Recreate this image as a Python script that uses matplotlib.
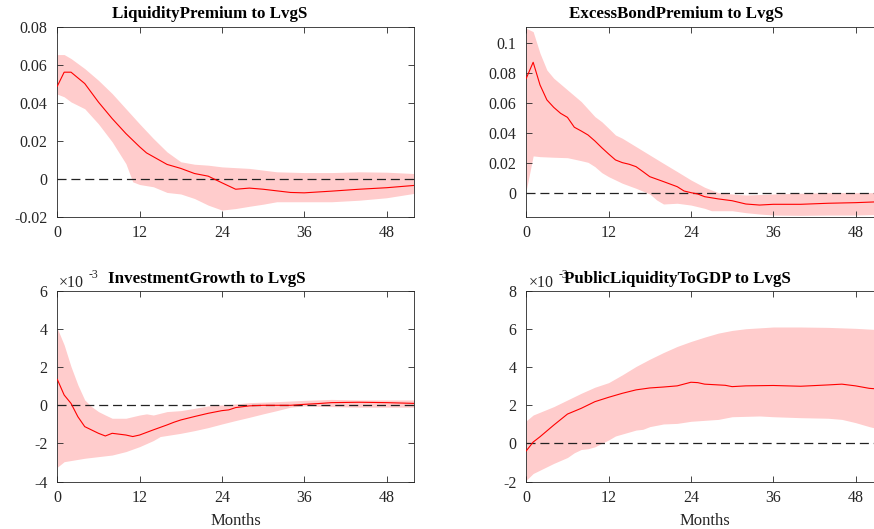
import matplotlib
matplotlib.use("Agg")
import matplotlib.pyplot as plt
from matplotlib.ticker import FuncFormatter
import numpy as np

plt.rcParams['font.family'] = ['Liberation Serif', 'DejaVu Serif']
plt.rcParams['lines.scale_dashes'] = False

# ---- LiquidityPremium to LvgS ----
lp_m = [0, 1, 2, 4, 6, 8, 10, 12, 13, 16, 18, 20, 22, 24, 26, 28, 30, 34, 36, 40, 44, 48, 52]
lp_mid = [0.0489, 0.0563, 0.0563, 0.0503, 0.0405, 0.0318, 0.0239, 0.0169, 0.0137, 0.0076, 0.0055,
          0.0028, 0.0014, -0.0021, -0.0055, -0.0049, -0.0055, -0.0072, -0.0074, -0.0065, -0.0055,
          -0.0047, -0.0035]
lp_up_m = [0, 1, 2, 4, 6, 8, 10, 12, 14, 16, 18, 20, 22, 24, 28, 32, 36, 40, 44, 48, 52]
lp_up = [0.0656, 0.0656, 0.0635, 0.0582, 0.052, 0.045, 0.037, 0.029, 0.0213, 0.0142, 0.009,
         0.0077, 0.0072, 0.0063, 0.0055, 0.0037, 0.0033, 0.0033, 0.0037, 0.0035, 0.0028]
lp_lo_m = [0, 1, 2, 4, 6, 8, 10, 11, 12, 14, 16, 18, 20, 22, 24, 26, 28, 30, 32, 36, 40, 44, 48, 52]
lp_lo = [0.0447, 0.0433, 0.0406, 0.037, 0.029, 0.0195, 0.008, -0.0016, -0.003, -0.0042, -0.0072,
         -0.008, -0.0104, -0.0139, -0.0165, -0.0157, -0.0145, -0.0134, -0.0121, -0.0121, -0.0121,
         -0.0113, -0.01, -0.0077]

# ---- ExcessBondPremium to LvgS ----
eb_m = [0, 1, 2, 3, 4, 5, 6, 7, 8, 9, 10, 11, 12, 13, 14, 15, 16, 17, 18, 20, 22, 23, 24, 25, 26,
        28, 30, 32, 34, 36, 40, 44, 48, 52]
eb_mid = [0.0766, 0.0873, 0.0721, 0.0621, 0.0571, 0.0531, 0.0504, 0.0438, 0.0413, 0.0386, 0.0346,
          0.0301, 0.0259, 0.0219, 0.0201, 0.019, 0.0174, 0.0141, 0.0107, 0.0074, 0.004, 0.0011, 0.0,
          -0.0009, -0.0027, -0.0042, -0.0054, -0.0076, -0.0083, -0.0078, -0.0078, -0.0071, -0.0067,
          -0.006]
eb_up_m = [0, 1, 2, 3, 4, 6, 8, 10, 11, 12, 13, 14, 16, 18, 20, 22, 24, 26, 28, 30, 32, 36, 40, 44, 48, 52]
eb_up = [0.110, 0.1078, 0.0933, 0.0821, 0.0766, 0.0688, 0.061, 0.0509, 0.0475, 0.0431, 0.0386,
         0.0364, 0.0308, 0.0252, 0.0196, 0.0141, 0.0085, 0.0036, 0.0, -0.0009, -0.0016, -0.0009,
         -0.0004, 0.0, 0.0, 0.0]
eb_lo_m = [0, 1, 2, 4, 6, 8, 9, 10, 11, 12, 13, 14, 16, 18, 19, 20, 22, 24, 26, 27, 28, 30, 32, 34,
           36, 40, 44, 48, 52]
eb_lo = [0.0018, 0.0246, 0.0241, 0.0237, 0.0234, 0.0214, 0.0203, 0.0174, 0.0134, 0.0107, 0.0085,
         0.0063, 0.0029, -0.0009, -0.0049, -0.0076, -0.0071, -0.0083, -0.0105, -0.0121, -0.0121,
         -0.0121, -0.0134, -0.0143, -0.015, -0.0152, -0.015, -0.015, -0.0145]

# ---- InvestmentGrowth to LvgS (units of 1e-3) ----
ig_m = [0, 1, 2, 3, 4, 6, 7, 8, 10, 11, 12, 14, 16, 17, 18, 20, 22, 24, 25, 26, 28, 30, 34, 36, 38,
        40, 44, 48, 52]
ig_mid = [1.36, 0.54, 0.1, -0.6, -1.12, -1.47, -1.61, -1.47, -1.56, -1.64, -1.56, -1.29, -1.03,
          -0.89, -0.77, -0.59, -0.42, -0.28, -0.24, -0.12, -0.03, 0.0, 0.0, 0.05, 0.09, 0.14, 0.16,
          0.14, 0.1]
ig_up_m = [0, 1, 2, 3, 4, 5, 6, 7, 8, 10, 12, 13, 14, 16, 18, 20, 22, 24, 26, 28, 32, 36, 40, 44, 48, 52]
ig_up = [4.04, 3.17, 2.03, 1.07, 0.28, -0.07, -0.33, -0.51, -0.68, -0.68, -0.51, -0.45, -0.51,
         -0.33, -0.28, -0.16, -0.03, 0.02, 0.07, 0.14, 0.19, 0.26, 0.31, 0.28, 0.28, 0.28]
ig_lo_m = [0, 1, 4, 8, 10, 12, 14, 15, 18, 20, 22, 24, 26, 28, 30, 32, 34, 36, 40, 44, 48, 52]
ig_lo = [-3.25, -2.96, -2.78, -2.61, -2.43, -2.17, -1.85, -1.64, -1.47, -1.33, -1.17, -0.98, -0.8,
         -0.63, -0.45, -0.28, -0.1, -0.03, -0.07, -0.1, -0.1, -0.1]

# ---- PublicLiquidityToGDP to LvgS (units of 1e-3) ----
pl_m = [0, 1, 2, 4, 6, 8, 10, 12, 14, 16, 18, 20, 22, 24, 25, 26, 28, 29, 30, 32, 36, 40, 44, 46,
        48, 50, 52]
pl_mid = [-0.39, 0.07, 0.35, 0.96, 1.54, 1.84, 2.19, 2.42, 2.63, 2.81, 2.91, 2.96, 3.02, 3.21, 3.19,
          3.11, 3.07, 3.05, 2.98, 3.02, 3.04, 3.0, 3.07, 3.11, 3.02, 2.89, 2.84]
pl_up_m = [0, 1, 4, 6, 8, 10, 12, 14, 16, 18, 20, 22, 24, 26, 28, 30, 32, 36, 40, 44, 48, 52]
pl_up = [1.19, 1.49, 1.93, 2.28, 2.63, 2.95, 3.19, 3.6, 4.04, 4.42, 4.77, 5.09, 5.35, 5.58, 5.79,
         5.93, 6.02, 6.11, 6.11, 6.09, 6.04, 5.96]
pl_lo_m = [0, 1, 4, 6, 7, 8, 9, 10, 11, 12, 13, 16, 17, 18, 20, 22, 24, 28, 30, 34, 36, 40, 44, 46,
           48, 50, 52]
pl_lo = [-1.93, -1.58, -1.05, -0.74, -0.49, -0.32, -0.28, -0.18, 0.0, 0.18, 0.39, 0.7, 0.74, 0.88,
         1.02, 1.05, 1.16, 1.26, 1.4, 1.44, 1.4, 1.35, 1.32, 1.26, 1.09, 0.88, 0.7]

titles = ["LiquidityPremium to LvgS", "ExcessBondPremium to LvgS",
          "InvestmentGrowth to LvgS", "PublicLiquidityToGDP to LvgS"]
xticks = [0, 12, 24, 36, 48]

W, H = 874, 529
fig = plt.figure(figsize=(W / 100, H / 100), dpi=100)

def px_axes(left, top, right, bottom):
    return fig.add_axes([left / W, 1 - bottom / H, (right - left) / W, (bottom - top) / H])

panels = [
    (px_axes(57.3, 27.3, 414, 216.7), lp_m, lp_mid, lp_up_m, lp_up, lp_lo_m, lp_lo, (-0.02, 0.08), [-0.02, 0, 0.02, 0.04, 0.06, 0.08], 210, 18.5),
    (px_axes(526.3, 27.3, 883, 216.7), eb_m, eb_mid, eb_up_m, eb_up, eb_lo_m, eb_lo, (-0.0161, 0.1107), [0, 0.02, 0.04, 0.06, 0.08, 0.1], 676, 18.5),
    (px_axes(57.3, 291, 414, 481.5), ig_m, ig_mid, ig_up_m, ig_up, ig_lo_m, ig_lo, (-4, 6), [-4, -2, 0, 2, 4, 6], 206.5, 282.7),
    (px_axes(526.3, 291, 883, 481.5), pl_m, pl_mid, pl_up_m, pl_up, pl_lo_m, pl_lo, (-2, 8), [-2, 0, 2, 4, 6, 8], 677.5, 282.7),
]

grid = np.arange(0, 53)
for i, (ax, m, mid, um, up, lm, lo, ylim, yt, tx, ty) in enumerate(panels):
    # band edges were read at different months; shade between them on the common month grid
    ax.fill_between(grid, np.interp(grid, lm, lo), np.interp(grid, um, up),
                    color='#ffcccc', lw=0, zorder=1)
    ax.axhline(0, color='#222222', lw=0.9, dashes=(6.5, 3.5), zorder=2)
    ax.plot(m, mid, color='red', lw=0.8, zorder=3)
    ax.set_xlim(0, 52)
    ax.set_ylim(*ylim)
    ax.set_xticks(xticks)
    ax.set_yticks(yt)
    ax.yaxis.set_major_formatter(FuncFormatter(lambda v, p: '%g' % round(v, 4)))
    ax.tick_params(direction='in', top=True, right=True, length=4, width=0.6,
                   labelsize=11.5, colors='#262626', pad=7)
    ax.tick_params(axis='x', pad=6)
    for s in ax.spines.values():
        s.set_color('#262626')
        s.set_linewidth(0.6)
    if i >= 2:
        ax.set_xlabel('Months', fontsize=12, color='#262626', labelpad=5)
    fig.text(tx / W, 1 - ty / H, titles[i], ha='center', va='baseline',
             fontsize=12.2, fontweight='bold', color='black', zorder=5)

# exponent labels
for x0 in (58.3, 528.7):
    fig.text(x0 / W, 1 - 286.7 / H, '\u00d710', fontsize=11.5, color='#262626', va='baseline')
    fig.text((x0 + 30) / W, 1 - 278.5 / H, '-3', fontsize=8.5, color='#262626', va='baseline', zorder=1)

fig.savefig('out.png', dpi=100)
